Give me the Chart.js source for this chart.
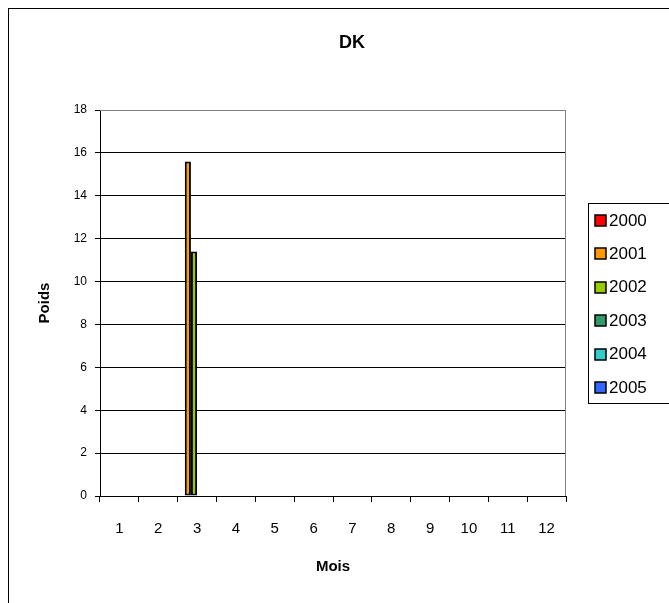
<!DOCTYPE html>
<html>
<head>
<meta charset="utf-8">
<script src="https://cdn.jsdelivr.net/npm/chart.js@4/dist/chart.umd.min.js"></script>
<style>
  html, body { margin: 0; padding: 0; background: #fff; }
  #wrap { width: 669px; height: 603px; }
</style>
</head>
<body>
<div id="wrap"><canvas id="c" width="669" height="603"></canvas></div>
<script>
const months = ['1','2','3','4','5','6','7','8','9','10','11','12'];
const years = ['2000','2001','2002','2003','2004','2005'];
const colors = ['#FF0000','#FF9900','#99CC00','#339966','#33CCCC','#3366FF'];
const v2000 = [null,null,null,null,null,null,null,null,null,null,null,null];
const v2001 = [null,null,15.6,null,null,null,null,null,null,null,null,null];
const v2002 = [null,null,11.4,null,null,null,null,null,null,null,null,null];
const v2003 = [null,null,null,null,null,null,null,null,null,null,null,null];
const v2004 = [null,null,null,null,null,null,null,null,null,null,null,null];
const v2005 = [null,null,null,null,null,null,null,null,null,null,null,null];
const yTicks = [0,2,4,6,8,10,12,14,16,18];
const series = [v2000, v2001, v2002, v2003, v2004, v2005];

const FONT = "'Liberation Sans', Arial, sans-serif";

const framePlugin = {
  id: 'frame',
  beforeDraw(chart) {
    const ctx = chart.ctx;
    ctx.save();
    ctx.fillStyle = '#fff';
    ctx.fillRect(0, 0, chart.width, chart.height);
    ctx.strokeStyle = '#000';
    ctx.lineWidth = 1;
    ctx.strokeRect(8.5, 8.5, 800, 800);
    ctx.restore();
  },
  beforeDatasetsDraw(chart) {
    const a = chart.chartArea, ctx = chart.ctx;
    ctx.save();
    ctx.strokeStyle = '#808080';
    ctx.lineWidth = 1;
    ctx.beginPath();
    ctx.moveTo(a.left, a.top + 0.5);
    ctx.lineTo(a.right - 0.5, a.top + 0.5);
    ctx.lineTo(a.right - 0.5, a.bottom);
    ctx.stroke();
    ctx.restore();
  },
  afterDraw(chart) {
    const ctx = chart.ctx;
    const x0 = 588, y0 = 203, w = 120, h = 200;
    ctx.save();
    ctx.fillStyle = '#fff';
    ctx.fillRect(x0, y0, w, h);
    ctx.strokeStyle = '#000';
    ctx.lineWidth = 1;
    ctx.strokeRect(x0 + 0.5, y0 + 0.5, w, h);
    ctx.font = '17px ' + FONT;
    ctx.textBaseline = 'middle';
    ctx.textAlign = 'left';
    chart.data.datasets.forEach((ds, i) => {
      const cy = 220 + i * 33.4;
      ctx.fillStyle = ds.backgroundColor;
      ctx.fillRect(595, Math.round(cy) - 5, 11, 11);
      ctx.strokeStyle = '#000';
      ctx.lineWidth = 1.5;
      ctx.strokeRect(595, Math.round(cy) - 5, 11, 11);
      ctx.fillStyle = '#000';
      ctx.fillText(ds.label, 609, cy + 1);
    });
    ctx.restore();
  }
};

new Chart(document.getElementById('c'), {
  type: 'bar',
  data: {
    labels: months,
    datasets: years.map((y, i) => ({
      label: y,
      data: series[i],
      backgroundColor: colors[i],
      borderColor: '#000',
      borderWidth: 2,
      borderSkipped: false,
      categoryPercentage: 0.95,
      barPercentage: 1.0
    }))
  },
  options: {
    responsive: false,
    animation: false,
    devicePixelRatio: 1,
    layout: { padding: { left: 35, right: 0, top: 0, bottom: 0 } },
    plugins: {
      legend: { display: false },
      tooltip: { enabled: false },
      title: {
        display: true,
        text: 'DK',
        color: '#000',
        font: { family: FONT, size: 18, weight: 'bold' },
        padding: { top: 32, bottom: 56.4 }
      }
    },
    scales: {
      x: {
        afterFit(s) { s.height = 107; },
        grid: { display: true, drawOnChartArea: false, drawTicks: true, tickLength: 6, color: '#000', offset: true },
        border: { display: true, color: '#000', width: 1 },
        ticks: { color: '#000', font: { family: FONT, size: 15 }, padding: 18, maxRotation: 0, autoSkip: false },
        title: { display: true, text: 'Mois', color: '#000', font: { family: FONT, size: 15, weight: 'bold' }, padding: { top: 0, bottom: 27 } }
      },
      y: {
        min: 0, max: 18,
        afterFit(s) { s.width = 65; },
        afterBuildTicks(s) { s.ticks = yTicks.map(v => ({ value: v })); },
        grid: {
          color: (c) => (c.tick && c.tick.value === 18) ? '#808080' : '#000',
          tickColor: '#000',
          tickLength: 5,
          lineWidth: 1
        },
        border: { display: true, color: '#000', width: 1 },
        ticks: { color: '#000', font: { family: FONT, size: 12 }, padding: 8, stepSize: 2 },
        title: { display: true, text: 'Poids', color: '#000', font: { family: FONT, size: 15, weight: 'bold' }, padding: { top: 1, bottom: 0 } }
      },
      yRight: {
        position: 'right',
        display: true,
        afterFit(s) { s.width = 103; },
        grid: { display: false, drawOnChartArea: false },
        border: { display: false },
        ticks: { display: false }
      }
    }
  },
  plugins: [framePlugin]
});
</script>
</body>
</html>
